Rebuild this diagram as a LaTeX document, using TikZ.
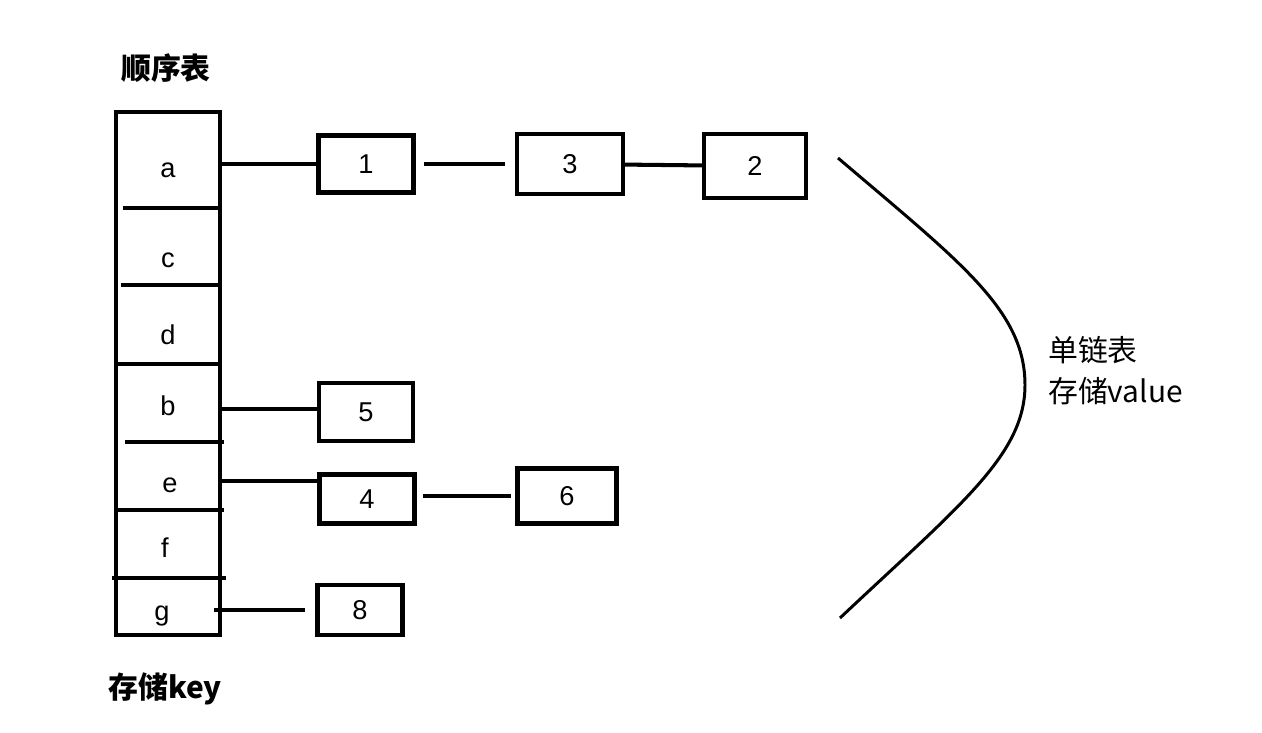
\documentclass[tikz,border=0pt]{standalone}
\usepackage{fontspec}
\setmainfont{Liberation Sans}
\newfontfamily\cjk{Noto Sans CJK SC}
\usetikzlibrary{positioning}

\begin{document}
\begin{tikzpicture}[x=0.02cm, y=-0.02cm,
      frame/.style={line width=2.8pt},
      cell/.style={minimum width=2.08cm, inner sep=0pt, text height=0.5cm, text depth=0pt, font=\fontsize{15.5}{18}\selectfont},
      val/.style={draw, line width=2.3pt, minimum width=1.9cm, minimum height=1.14cm, inner sep=0pt, font=\fontsize{15.5}{18}\selectfont},
      link/.style={line width=2.3pt},
      lbl/.style={font=\cjk\fontsize{17}{20}\selectfont}]
    \useasboundingbox (0,0) rectangle (1262,733);
    % key column
    \draw[frame] (116,112) rectangle (220,635);
    \draw[frame] (123,208) -- (219,208);
    \draw[frame] (121,285) -- (219,285);
    \draw[frame] (115,364) -- (222,364);
    \draw[frame] (125,442) -- (224,442);
    \draw[frame] (116,510) -- (224,510);
    \draw[frame] (112,578) -- (226,578);
    \node[cell] (a) at (168,165) {a};
    \node[cell] (c) at (168,255) {c};
    \node[cell] (d) at (168,332) {d};
    \node[cell] (b) at (168,403) {b};
    \node[cell] (e) at (170,480) {e};
    \node[cell] (f) at (165,545) {f};
    \node[cell] (g) at (162,608) {g};
    \node[lbl, font=\cjk\bfseries\fontsize{17}{20}\selectfont] (seqtitle) at (166,68) {顺序表};
    \node[lbl, font=\cjk\bfseries\fontsize{17}{20}\selectfont] (keytitle) at (165,689) {存储key};
    % value lists
    \node[val] (v1) at (366,164) {1};
    \node[val, minimum width=2.12cm, minimum height=1.2cm] (v3) at (570,164) {3};
    \node[val, minimum width=2.04cm, minimum height=1.28cm] (v2) at (755,166) {2};
    \node[val, minimum width=1.88cm, minimum height=1.16cm] (v5) at (366,412) {5};
    \node[val, minimum width=1.9cm, minimum height=0.98cm] (v4) at (367,499) {4};
    \node[val, minimum width=1.98cm, minimum height=1.1cm] (v6) at (567,496) {6};
    \node[val, minimum width=1.7cm, minimum height=1cm] (v8) at (360,610) {8};
    \draw[link] (a.east |- 0,164) -- (v1.west |- 0,164);
    \draw[link, shorten <=0.16cm, shorten >=0.2cm] (v1) -- (v3);
    \draw[link] (v3) -- (v2);
    \draw[link] (b.east |- 0,409) -- (v5.west |- 0,409);
    \draw[link] (e.east |- 0,481) -- (v4.west |- 0,481);
    \draw[link, shorten <=0.12cm, shorten >=0.08cm] (v4.east |- v6) -- (v6);
    \draw[link, shorten >=0.2cm] (g.east |- v8) -- (v8);
    % bracket
    \coordinate (brtop) at (838,158);
    \coordinate (brtip) at (1025,385);
    \coordinate (brbot) at (840,618);
    \draw[line width=1.7pt] (brtop) .. controls (960,262) and (1025,310) .. (brtip)
      .. controls (1025,455) and (960,505) .. (brbot);
    \node[lbl, anchor=west] (listlbl) at (1042,350) {单链表};
    \node[lbl, anchor=west] (vallbl) at (1042,391) {存储value};
  \end{tikzpicture}
\end{document}
